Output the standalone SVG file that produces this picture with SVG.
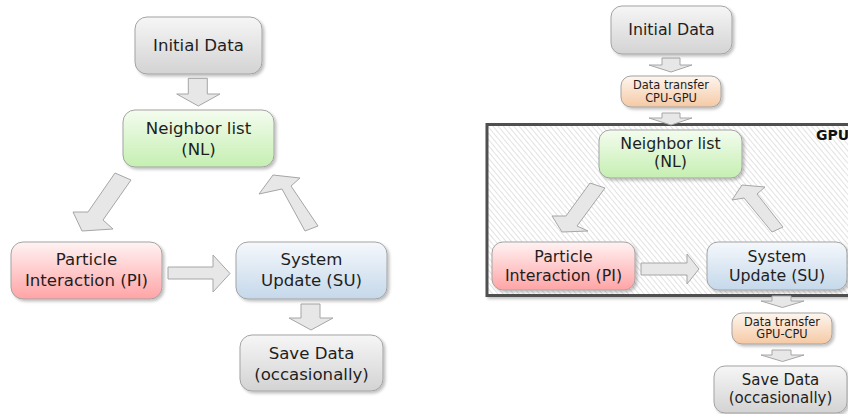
<svg xmlns="http://www.w3.org/2000/svg" width="848" height="414" viewBox="0 0 848 414">
<defs>
<linearGradient id="gGray" x1="0" y1="0" x2="0" y2="1"><stop offset="0" stop-color="#f6f6f6"/><stop offset="1" stop-color="#d3d3d3"/></linearGradient>
<linearGradient id="gGreen" x1="0" y1="0" x2="0" y2="1"><stop offset="0" stop-color="#f4fcef"/><stop offset="1" stop-color="#c5efb1"/></linearGradient>
<linearGradient id="gRed" x1="0" y1="0" x2="0" y2="1"><stop offset="0" stop-color="#fff3f3"/><stop offset="1" stop-color="#ffa4a6"/></linearGradient>
<linearGradient id="gBlue" x1="0" y1="0" x2="0" y2="1"><stop offset="0" stop-color="#f5f8fc"/><stop offset="1" stop-color="#c5d8ea"/></linearGradient>
<linearGradient id="gPeach" x1="0" y1="0" x2="0" y2="1"><stop offset="0" stop-color="#fdf6ef"/><stop offset="1" stop-color="#f5c9a4"/></linearGradient>
<pattern id="hatch" width="4" height="4" patternUnits="userSpaceOnUse" patternTransform="rotate(-40)">
<rect width="4" height="4" fill="#ffffff"/>
<line x1="0" y1="0" x2="0" y2="4" stroke="#cfcfcf" stroke-width="1.2"/>
</pattern>
<filter id="sh" x="-10%" y="-10%" width="125%" height="135%">
<feGaussianBlur in="SourceAlpha" stdDeviation="1.5"/>
<feOffset dx="1.5" dy="2" result="o"/>
<feComponentTransfer><feFuncA type="linear" slope="0.25"/></feComponentTransfer>
<feMerge><feMergeNode/><feMergeNode in="SourceGraphic"/></feMerge>
</filter>
</defs>
<style>
.box{stroke:#a3a3a3;stroke-width:1;filter:url(#sh)}
.arr{fill:#e7e7e7;stroke:#a6a6a6;stroke-width:1;stroke-linejoin:miter}
.t{font-family:"DejaVu Sans","Liberation Sans",sans-serif;fill:#1e1e1e;text-anchor:middle}
.tl{font-size:16.6px}
.tr{font-size:15.8px}
.tsv{font-size:15px}
.ts{font-size:11.4px}
.gpu{font-family:"DejaVu Sans","Liberation Sans",sans-serif;font-weight:bold;font-size:14px;fill:#111}
</style>
<rect width="848" height="414" fill="#ffffff"/>

<!-- GPU region -->
<g id="gpu-region">
<rect x="487" y="124.5" width="366" height="171" fill="url(#hatch)" stroke="#505050" stroke-width="3" filter="url(#sh)"/>
<text class="gpu" x="816" y="139.5">GPU</text>
</g>

<!-- connectors -->
<g id="connectors">
<!-- left diagram -->
<polygon class="arr" points="188.3,78.3 207.3,78.3 207.3,94 220,94 198.3,106 176.7,94 188.3,94"/>
<polygon class="arr" points="115,173 131,180 103,220 113,229 82,231 73,212 88,212"/>
<polygon class="arr" points="273,175 300,178 291,186 318,226 305,231 282,189 259,194"/>
<polygon class="arr" points="168,267 213,267 213,255 230,273.5 213,292 213,279 168,279"/>
<polygon class="arr" points="301,304 320,304 320,318 333,318 311,330 289,318 301,318"/>
<!-- right diagram -->
<polygon class="arr" points="662,58 680,58 680,65 692,65 671,72 649,65 662,65"/>
<polygon class="arr" points="662,113 680,113 680,118 692,118 671,125 649,118 662,118"/>
<polygon class="arr" points="590,183 605,188 577,226 588,231 562,232 552,216 566,216"/>
<polygon class="arr" points="742,185 765,187 757,194 783,227 772,232 744,198 732,200"/>
<polygon class="arr" points="641,263 687,263 687,254 699,269 687,284 687,275 641,275"/>
<polygon class="arr" points="772,296 791,296 791,301 804,301 782.5,307.5 761,301 772,301"/>
<polygon class="arr" points="772,350 791,350 791,355 804,355 782.5,361.5 761,355 772,355"/>
</g>

<!-- left diagram nodes -->
<g id="L-initial">
<rect class="box" x="135" y="17" width="127" height="57" rx="12" fill="url(#gGray)"/>
<text class="t tl" x="198.5" y="51">Initial Data</text>
</g>
<g id="L-nl">
<rect class="box" x="123" y="110" width="151" height="57" rx="12" fill="url(#gGreen)"/>
<text class="t tl" x="198.5" y="133.5">Neighbor list</text>
<text class="t tl" x="198.5" y="155">(NL)</text>
</g>
<g id="L-pi">
<rect class="box" x="11" y="242" width="151" height="57" rx="12" fill="url(#gRed)"/>
<text class="t tl" x="86.5" y="264.5">Particle</text>
<text class="t tl" x="86.5" y="285.5">Interaction (PI)</text>
</g>
<g id="L-su">
<rect class="box" x="236" y="242" width="151" height="57" rx="12" fill="url(#gBlue)"/>
<text class="t tl" x="311.5" y="264.5">System</text>
<text class="t tl" x="311.5" y="285.5">Update (SU)</text>
</g>
<g id="L-save">
<rect class="box" x="240" y="335" width="143" height="56" rx="12" fill="url(#gGray)"/>
<text class="t tl" x="311.5" y="358.5">Save Data</text>
<text class="t tl" x="311.5" y="379.5">(occasionally)</text>
</g>

<!-- right diagram nodes -->
<g id="R-initial">
<rect class="box" x="611" y="6" width="121" height="48" rx="11" fill="url(#gGray)"/>
<text class="t tr" x="671.5" y="34.5">Initial Data</text>
</g>
<g id="R-cpugpu">
<rect class="box" x="621" y="76" width="100" height="31" rx="10" fill="url(#gPeach)"/>
<text class="t ts" x="671" y="88.5">Data transfer</text>
<text class="t ts" x="671" y="101.5">CPU-GPU</text>
</g>
<g id="R-nl">
<rect class="box" x="599" y="130" width="143" height="48" rx="11" fill="url(#gGreen)"/>
<text class="t tr" x="670.5" y="148.5">Neighbor list</text>
<text class="t tr" x="670.5" y="167">(NL)</text>
</g>
<g id="R-pi">
<rect class="box" x="492" y="242" width="143" height="48" rx="11" fill="url(#gRed)"/>
<text class="t tr" x="563.5" y="262">Particle</text>
<text class="t tr" x="563.5" y="280.5">Interaction (PI)</text>
</g>
<g id="R-su">
<rect class="box" x="707" y="242" width="140" height="48" rx="11" fill="url(#gBlue)"/>
<text class="t tr" x="777" y="262">System</text>
<text class="t tr" x="777" y="280.5">Update (SU)</text>
</g>
<g id="R-gpucpu">
<rect class="box" x="732" y="313" width="100" height="31" rx="10" fill="url(#gPeach)"/>
<text class="t ts" x="782" y="325.5">Data transfer</text>
<text class="t ts" x="782" y="338">GPU-CPU</text>
</g>
<g id="R-save">
<rect class="box" x="714" y="366" width="133" height="47" rx="11" fill="url(#gGray)"/>
<text class="t tsv" x="780.5" y="384.5">Save Data</text>
<text class="t tsv" x="780.5" y="402.5">(occasionally)</text>
</g>
</svg>
